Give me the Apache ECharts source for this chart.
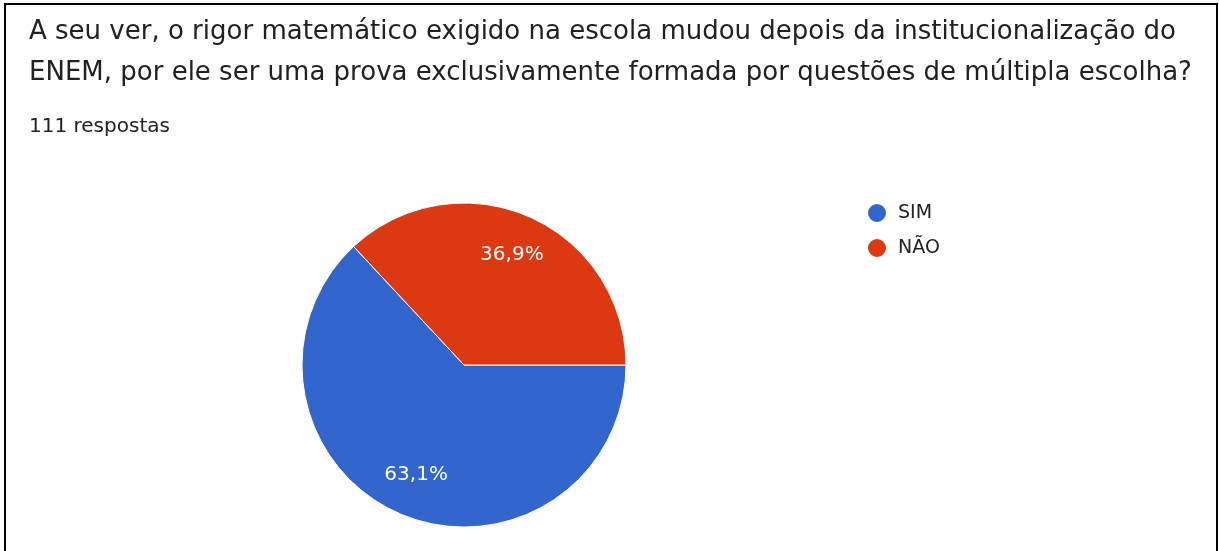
<!DOCTYPE html>
<html>
<head>
<meta charset="utf-8">
<script src="https://cdn.jsdelivr.net/npm/echarts@6/dist/echarts.min.js"></script>
<style>
  html, body { margin: 0; padding: 0; background: #fff; }
  #chart { width: 1219px; height: 551px; }
</style>
</head>
<body>
<div id="chart"></div>
<script>
var questionLines = [
  'A seu ver, o rigor matemático exigido na escola mudou depois da institucionalização do',
  'ENEM, por ele ser uma prova exclusivamente formada por questões de múltipla escolha?'
];
var responseCount = '111 respostas';
var categories = ['SIM', 'NÃO'];
var answers = [70, 41];
var colors = ['#3366cc', '#dc3912'];

var chart = echarts.init(document.getElementById('chart'));

var pieData = categories.map(function (name, i) {
  return { name: name, value: answers[i] };
});

function pct(params) {
  return params.percent.toFixed(1).replace('.', ',') + '%';
}

var font = 'DejaVu Sans';

var option = {
  backgroundColor: '#fff',
  color: colors,
  animation: false,
  title: [{
    text: questionLines.join('\n'),
    left: 29,
    top: 12,
    padding: 0,
    textStyle: {
      fontFamily: font,
      fontSize: 26,
      fontWeight: 'normal',
      color: '#202124',
      lineHeight: 41
    }
  }, {
    text: responseCount,
    left: 29,
    top: 117,
    padding: 0,
    textStyle: {
      fontFamily: font,
      fontSize: 20,
      fontWeight: 'normal',
      color: '#202124'
    }
  }],
  legend: {
    orient: 'vertical',
    left: 866,
    top: 202,
    padding: 0,
    icon: 'circle',
    itemWidth: 20,
    itemHeight: 20,
    itemGap: 13,
    data: categories,
    textStyle: {
      fontFamily: font,
      fontSize: 19,
      color: '#222',
      padding: [0, 0, 0, 6]
    }
  },
  graphic: [{
    type: 'rect',
    shape: { x: 5, y: 4, width: 1212, height: 560 },
    style: { fill: 'none', stroke: '#000', lineWidth: 2 },
    silent: true
  }],
  series: [{
    type: 'pie',
    center: [464, 365],
    radius: [0, 162],
    startAngle: 0,
    clockwise: true,
    data: pieData,
    itemStyle: { borderColor: '#fff', borderWidth: 1 },
    label: { show: false },
    labelLine: { show: false },
    silent: true
  }, {
    // transparent ring that only carries the percentage labels
    type: 'pie',
    center: [464, 365],
    radius: [72, 162],
    startAngle: 0,
    clockwise: true,
    data: pieData,
    itemStyle: { color: 'transparent' },
    label: {
      show: true,
      position: 'inside',
      formatter: pct,
      fontFamily: font,
      fontSize: 20,
      color: '#fff'
    },
    labelLine: { show: false },
    silent: true
  }]
};

chart.setOption(option);
</script>
</body>
</html>
